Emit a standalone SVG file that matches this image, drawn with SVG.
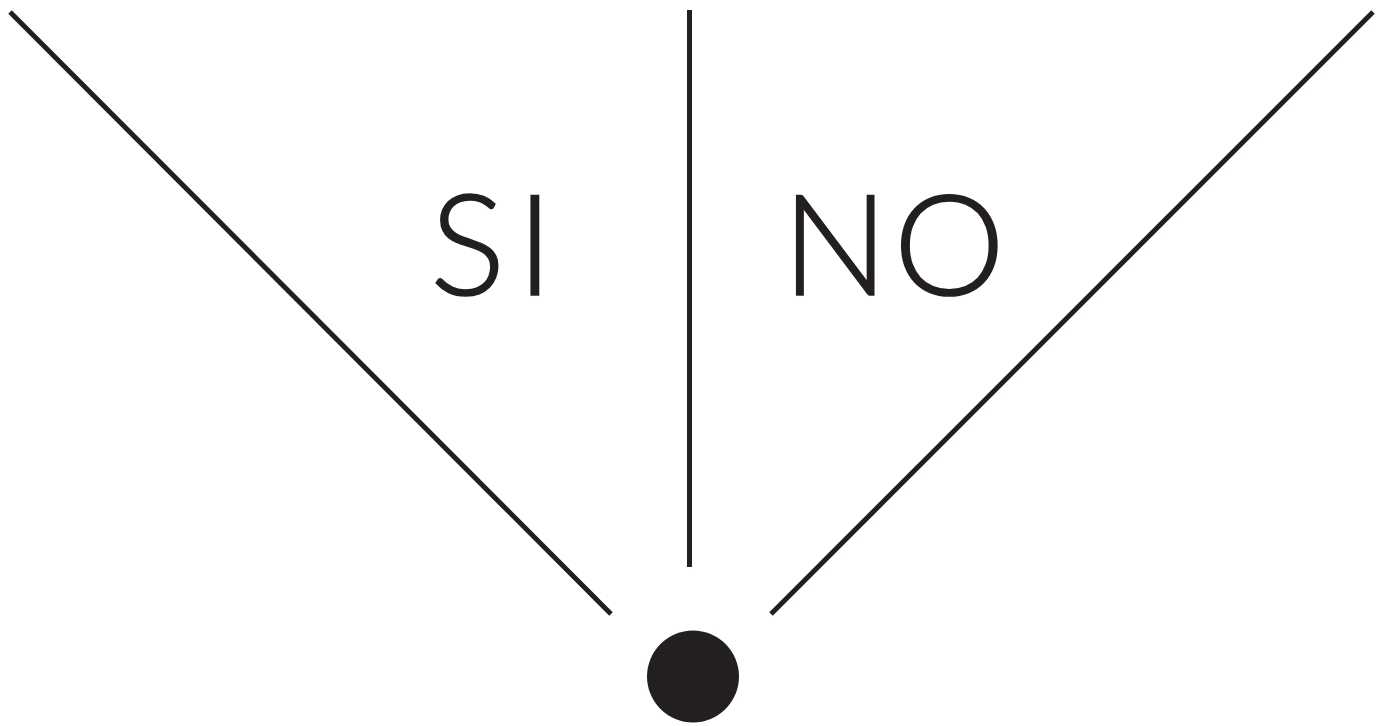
<svg xmlns="http://www.w3.org/2000/svg" width="1388" height="726" viewBox="0 0 1388 726">
<style>
.ln{stroke:#231f20;stroke-width:5;fill:none}
.lbl{font-family:Lato,"Liberation Sans",sans-serif;font-weight:300;font-size:141px;fill:#231f20;stroke:#231f20;stroke-width:1.6}
</style>
<rect width="1388" height="726" fill="#fff"/>
<g id="connectors">
<line class="ln" x1="10" y1="12" x2="611" y2="614"/>
<line class="ln" x1="689.5" y1="10" x2="689.5" y2="567"/>
<line class="ln" x1="1373" y1="12" x2="771" y2="614"/>
</g>
<g id="label-si"><text class="lbl" x="430" y="295" letter-spacing="11">SI</text></g>
<g id="label-no"><text class="lbl" x="782" y="295" letter-spacing="5">NO</text></g>
<g id="node-dot"><circle cx="693" cy="676.5" r="46" fill="#231f20"/></g>
</svg>
